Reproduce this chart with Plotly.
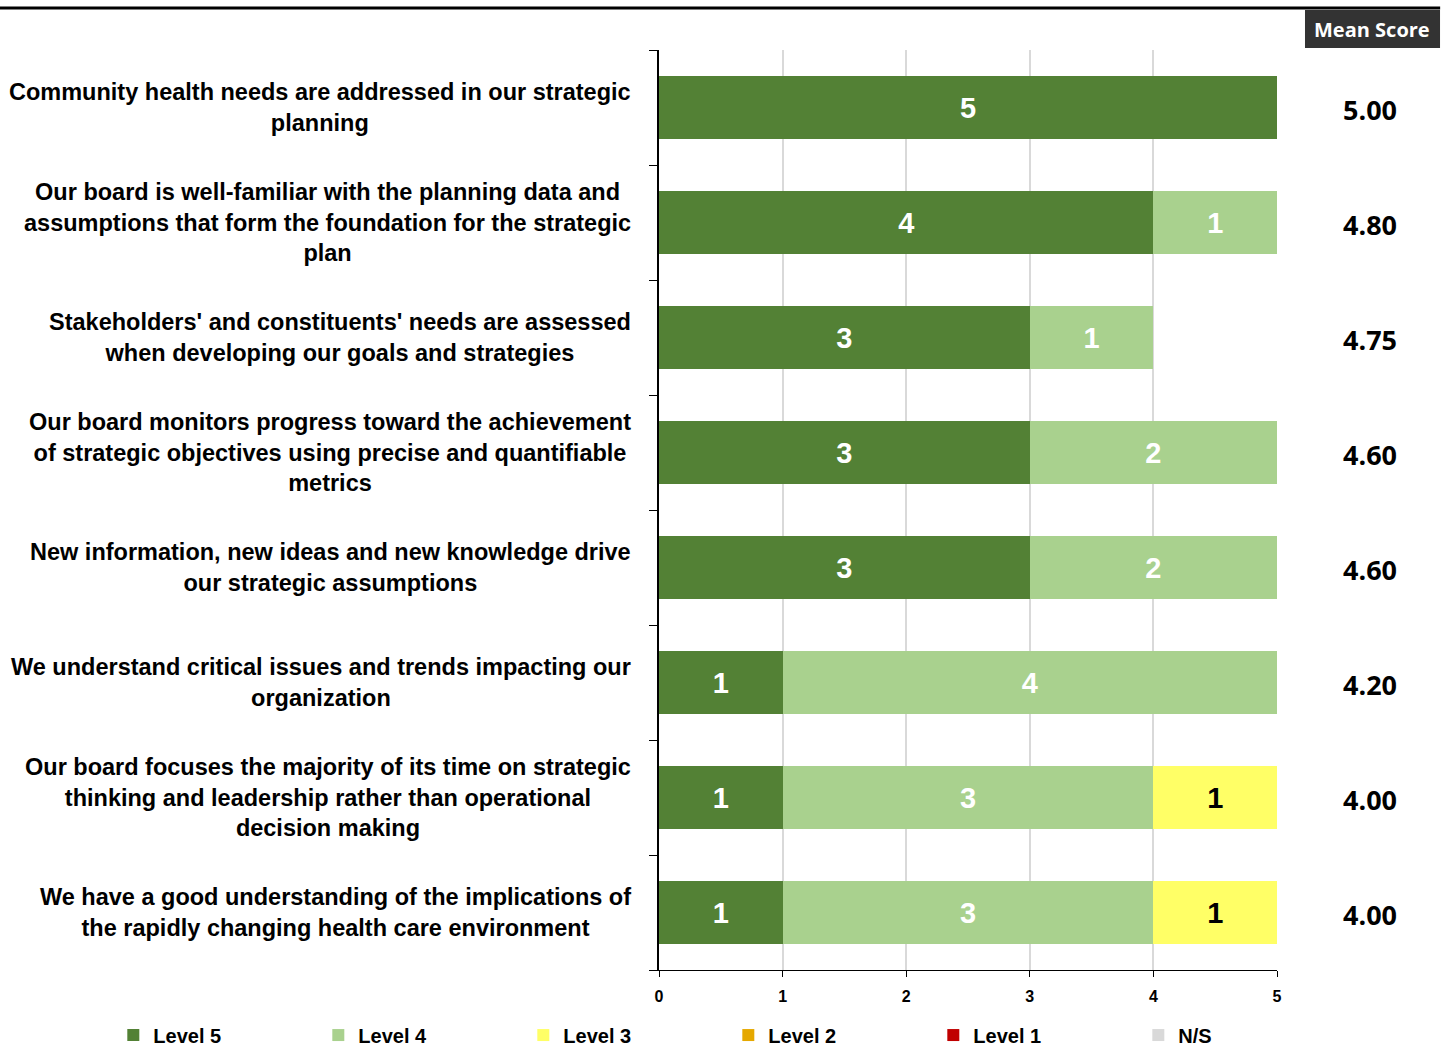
import plotly.graph_objects as go

# Survey statements, top to bottom
statements = [
    "Community health needs are addressed in our strategic<br>planning",
    "Our board is well-familiar with the planning data and<br>assumptions that form the foundation for the strategic<br>plan",
    "Stakeholders' and constituents' needs are assessed<br>when developing our goals and strategies",
    "Our board monitors progress toward the achievement<br>of strategic objectives using precise and quantifiable<br>metrics",
    "New information, new ideas and new knowledge drive<br>our strategic assumptions",
    "We understand critical issues and trends impacting our<br>organization",
    "Our board focuses the majority of its time on strategic<br>thinking and leadership rather than operational<br>decision making",
    "We have a good understanding of the implications of<br>the rapidly changing health care environment",
]

# Response counts per level
level5 = [5, 4, 3, 3, 3, 1, 1, 1]
level4 = [0, 1, 1, 2, 2, 4, 3, 3]
level3 = [0, 0, 0, 0, 0, 0, 1, 1]
level2 = [0, 0, 0, 0, 0, 0, 0, 0]
level1 = [0, 0, 0, 0, 0, 0, 0, 0]
not_sure = [0, 0, 0, 0, 0, 0, 0, 0]

mean_scores = [5.00, 4.80, 4.75, 4.60, 4.60, 4.20, 4.00, 4.00]

x_ticks = [0, 1, 2, 3, 4, 5]

ARIAL = "Liberation Sans, Arial, sans-serif"
SANS = "Open Sans, Noto Sans, sans-serif"

series = [
    ("Level 5", level5, "#538135", "white"),
    ("Level 4", level4, "#A9D18E", "white"),
    ("Level 3", level3, "#FFFF66", "black"),
    ("Level 2", level2, "#E5A800", "black"),
    ("Level 1", level1, "#C00000", "white"),
    ("N/S", not_sure, "#D9D9D9", "black"),
]

ids = list(range(len(statements)))

fig = go.Figure()
for name, vals, color, tcolor in series:
    fig.add_trace(go.Bar(
        name=name,
        y=ids,
        x=vals,
        orientation="h",
        marker=dict(color=color, line=dict(width=0)),
        text=[str(v) if v else "" for v in vals],
        textposition="inside",
        insidetextanchor="middle",
        textfont=dict(family=ARIAL, size=29, color=tcolor, weight="bold"),
        constraintext="none",
        hoverinfo="skip",
    ))

annotations = []
# Statement labels: centred lines, block right edge next to the axis
for i, s in enumerate(statements):
    annotations.append(dict(
        x=-0.042, y=i, xref="paper", yref="y",
        text="<b>%s</b>" % s, showarrow=False,
        xanchor="right", yanchor="middle", align="center",
        font=dict(family=ARIAL, size=23.5, color="black"),
    ))
# Mean score column
for i, m in enumerate(mean_scores):
    annotations.append(dict(
        x=1.150, y=i, xref="paper", yref="y", yshift=-2,
        text="<b>%.2f</b>" % m, showarrow=False,
        xanchor="center", yanchor="middle",
        font=dict(family=SANS, size=27, color="black"),
    ))
annotations.append(dict(
    x=1.1537, y=1.0228, xref="paper", yref="paper",
    text="<b>Mean Score</b>", showarrow=False,
    xanchor="center", yanchor="middle",
    font=dict(family=SANS, size=20, color="white"),
))

fig.update_layout(
    barmode="stack",
    bargap=0.46,
    width=1447, height=1048,
    margin=dict(l=659, r=170, t=50, b=78, autoexpand=False),
    plot_bgcolor="white",
    paper_bgcolor="white",
    annotations=annotations,
    shapes=[
        dict(type="line", xref="paper", yref="paper",
             x0=-1.07, x1=1.264, y0=1.0457, y1=1.0457,
             line=dict(color="black", width=3)),
        dict(type="rect", xref="paper", yref="paper",
             x0=1.0453, x1=1.2638, y0=1.0022, y1=1.0435,
             fillcolor="#333333", line=dict(width=0), layer="below"),
    ],
    legend=dict(
        orientation="h", x=-0.883, y=-0.0707, xanchor="left", yanchor="middle",
        entrywidth=160, entrywidthmode="pixels",
        font=dict(family=ARIAL, size=20, color="black", weight="bold"),
        traceorder="normal", itemsizing="constant",
        bgcolor="rgba(0,0,0,0)",
    ),
    xaxis=dict(
        range=[0, 5], tickvals=x_ticks,
        ticktext=["<b>%d</b>" % t for t in x_ticks],
        showgrid=True, gridcolor="#D9D9D9", gridwidth=2,
        showline=True, linecolor="black", linewidth=1,
        ticks="outside", ticklen=6, tickcolor="black",
        ticklabelstandoff=6,
        tickfont=dict(family=ARIAL, size=16, color="black"),
        zeroline=False, fixedrange=True,
    ),
    yaxis=dict(
        type="linear", range=[len(statements) - 0.5, -0.5],
        tickvals=[i - 0.5 for i in range(len(statements) + 1)],
        showticklabels=False, showgrid=False,
        showline=True, linecolor="black", linewidth=2,
        ticks="outside", ticklen=8, tickcolor="black",
        zeroline=False, fixedrange=True,
    ),
    font=dict(family=ARIAL),
)

fig.write_html("out.html")
